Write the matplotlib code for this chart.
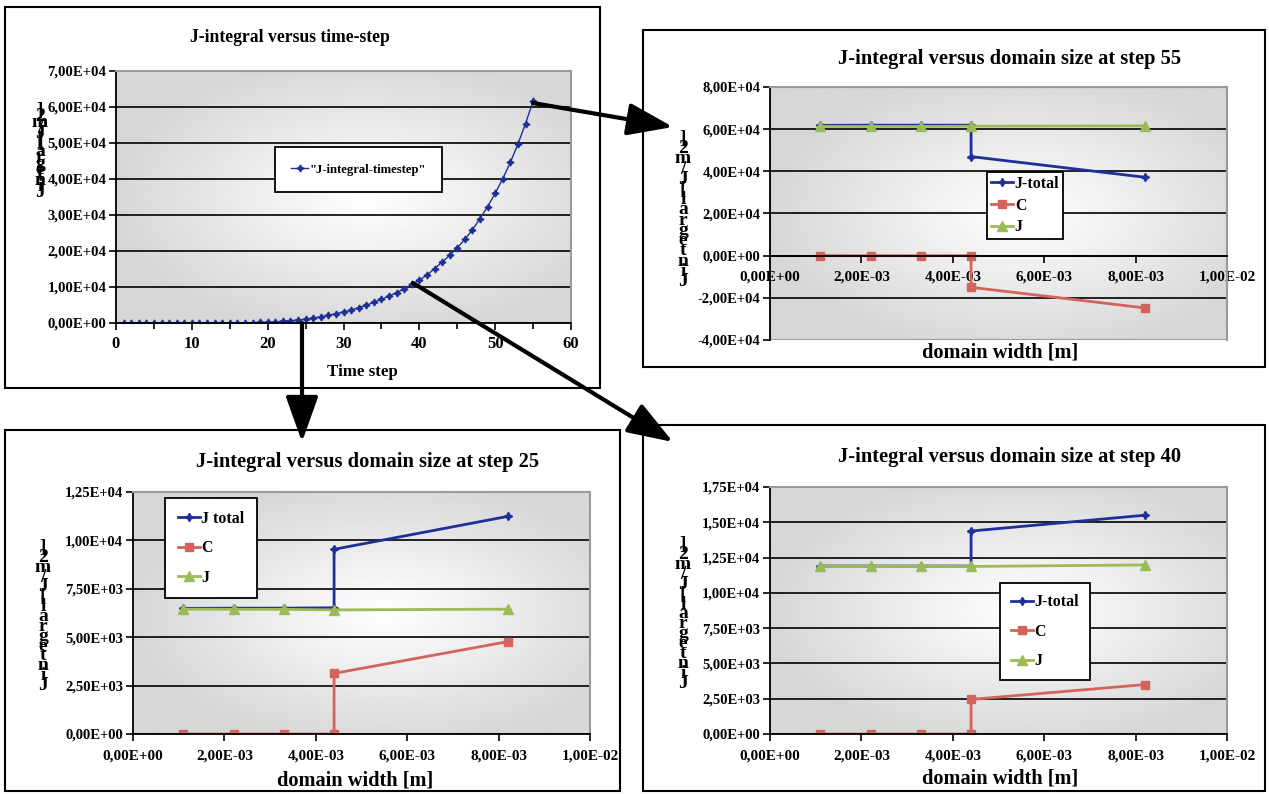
import matplotlib
matplotlib.use('Agg')
import matplotlib.pyplot as plt
import numpy as np
from matplotlib.patches import Rectangle, FancyArrowPatch
from matplotlib.ticker import FuncFormatter, MultipleLocator

plt.rcParams['font.family'] = ['Liberation Serif', 'DejaVu Serif']
plt.rcParams['font.weight'] = 'bold'

# ---- data ----
steps = list(range(1, 56))
j_steps = [0, 0, 0, 0, 0, 0, 0, 0, 0, 0, 0, 0, 10, 20, 30, 50, 70, 100, 140,
           200, 300, 500, 650, 850, 1100, 1400, 1750, 2100, 2600, 3050, 3600,
           4250, 4900, 5750, 6550, 7500, 8400, 9500, 10700, 11900, 13300,
           15100, 16900, 18800, 20900, 23200, 25900, 29000, 32300, 36000,
           40100, 44600, 49700, 55400, 61600]

width = [1.1e-3, 2.2e-3, 3.3e-3, 4.4e-3, 4.4e-3, 8.2e-3]   # J total and C (jump at 4.4e-3)
width_j = [1.1e-3, 2.2e-3, 3.3e-3, 4.4e-3, 8.2e-3]

jt25 = [6490, 6500, 6500, 6520, 9540, 11240]
c25 = [0, 0, 0, 0, 3130, 4770]
j25 = [6450, 6440, 6440, 6410, 6450]

jt40 = [11900, 11900, 11900, 11900, 14380, 15500]
c40 = [0, 0, 0, 0, 2450, 3500]
j40 = [11880, 11880, 11880, 11870, 11980]

jt55 = [61800, 61900, 61900, 61900, 47000, 37200]
c55 = [0, 0, 0, 0, -15000, -24800]
j55 = [61300, 61300, 61300, 61400, 61600]

# the y label comes out as a stack of characters in the original
ylabel_chars = list(']2m/J[largetniJ')

blue = '#1F2F98'
red = '#D2645C'
green = '#9BBB59'

W, H = 1269, 794
fig = plt.figure(figsize=(12.69, 7.94), dpi=100)


def px_box(l, t, r, b):
    return [l / W, 1 - b / H, (r - l) / W, (b - t) / H]


def sci(v, pos):
    return ('%.2E' % v).replace('.', ',')


def shade(ax):
    yy, xx = np.mgrid[-1:1:200j, -1.1:0.9:300j]
    r = np.sqrt(xx ** 2 + yy ** 2) / np.sqrt(2)
    img = 1 - 0.16 * np.clip(r * 1.25, 0, 1)
    ax.imshow(img, cmap='gray', vmin=0, vmax=1, extent=[0, 1, 0, 1],
              transform=ax.transAxes, aspect='auto', zorder=0,
              interpolation='bilinear')


def style(ax, xlim, ylim, ystep, ysize):
    shade(ax)
    ax.set_xlim(*xlim)
    ax.set_ylim(*ylim)
    ax.yaxis.set_major_locator(MultipleLocator(ystep))
    ax.yaxis.set_major_formatter(FuncFormatter(sci))
    ax.yaxis.grid(True, color='black', lw=1.2)
    ax.set_axisbelow(True)
    for s in ['top', 'right']:
        ax.spines[s].set_color('#9A9A9A')
        ax.spines[s].set_linewidth(1.5)
    for s in ['left', 'bottom']:
        ax.spines[s].set_color('black')
        ax.spines[s].set_linewidth(1.3)
    ax.tick_params(direction='out', length=5, width=1.2, labelsize=ysize, pad=2)
    fig.canvas.draw()
    for t in ax.yaxis.get_major_ticks():
        if abs(t.get_loc() - ylim[1]) < 1e-9:
            t.gridline.set_visible(False)


def stack_label(x, y_top, y_bot):
    step = (y_bot - y_top - 14) / (len(ylabel_chars) - 1)
    for i, ch in enumerate(ylabel_chars):
        fig.text(x / W, 1 - (y_top + i * step) / H, ch, ha='center', va='top',
                 fontsize=14)


def legend(ax, anchor, spacing, fs, pad, hl):
    leg = ax.legend(loc='upper left', bbox_to_anchor=anchor, fancybox=False,
                    framealpha=1, edgecolor='black', fontsize=fs,
                    handlelength=hl, handletextpad=0.1, borderaxespad=0,
                    labelspacing=spacing, borderpad=pad)
    leg.get_frame().set_linewidth(1.3)


# panel frames
for l, t, r, b in [(5, 7, 600, 388), (643, 30, 1265, 367),
                   (5, 430, 620, 791), (643, 425, 1265, 791)]:
    fig.patches.append(Rectangle((l / W, 1 - b / H), (r - l) / W, (b - t) / H,
                                 transform=fig.transFigure, fill=False,
                                 ec='black', lw=1.5))

# ---- panel 1: J versus time step ----
ax1 = fig.add_axes(px_box(116, 71, 571, 323))
ax1.plot(steps, j_steps, color=blue, lw=1, marker=(4, 1, 0), ms=5,
         label='"J-integral-timestep"')
style(ax1, (0, 60), (0, 70000), 10000, 10.6)
ax1.xaxis.set_major_locator(MultipleLocator(10))
ax1.xaxis.set_minor_locator(MultipleLocator(5))
ax1.tick_params(axis='x', which='minor', direction='out', length=4, width=1.2)
ax1.tick_params(axis='x', labelsize=12, pad=4)
legend(ax1, (0.349, 0.698), 0.5, 9.1, 1.3, 1.35)
fig.text(290 / W, 1 - 38 / H, 'J-integral versus time-step', ha='center',
         va='center', fontsize=12.7)
fig.text(362 / W, 1 - 372 / H, 'Time step', ha='center', va='center', fontsize=12.2)
stack_label(40, 102, 198)

# ---- domain panels ----
panels = [
    (px_box(770, 87, 1227, 340), jt55, c55, j55, (-40000, 80000), 20000,
     'J-integral versus domain size at step 55', (1010, 59), (1000, 352),
     ['J-total', 'C', 'J'], (0.475, 0.664), 0.36, 0.25, (683, 130, 287)),
    (px_box(133, 492, 590, 734), jt25, c25, j25, (0, 12500), 2500,
     'J-integral versus domain size at step 25', (368, 462), (355, 780),
     ['J total', 'C', 'J'], (0.070, 0.975), 0.85, 0.8, (43, 539, 691)),
    (px_box(770, 487, 1227, 734), jt40, c40, j40, (0, 17500), 2500,
     'J-integral versus domain size at step 40', (1010, 457), (1000, 778),
     ['J-total', 'C', 'J'], (0.503, 0.611), 0.85, 0.7, (683, 536, 689)),
]

for pos, jt, c, j, ylim, ystep, title, tpos, xpos, labels, lanchor, lsp, lpad, ylab in panels:
    ax = fig.add_axes(pos)
    ax.plot(width, jt, color=blue, lw=2, marker=(4, 1, 0), ms=6, label=labels[0])
    ax.plot(width, c, color=red, lw=2, marker='s', ms=6, label=labels[1])
    ax.plot(width_j, j, color=green, lw=2, marker='^', ms=7, label=labels[2])
    style(ax, (0, 0.01), ylim, ystep, 10.5)
    ax.xaxis.set_major_locator(MultipleLocator(0.002))
    ax.xaxis.set_major_formatter(FuncFormatter(sci))
    ax.tick_params(axis='x', labelsize=11, pad=6)
    if ylim[0] < 0:
        ax.spines['bottom'].set_position(('data', 0))
        ax.add_patch(Rectangle((0, 0), 1, 1, transform=ax.transAxes, fill=False,
                               ec='#9A9A9A', lw=1.5, zorder=0.6))
    legend(ax, lanchor, lsp, 11.4, lpad, 1.4)
    fig.text(tpos[0] / W, 1 - tpos[1] / H, title, ha='center', va='center',
             fontsize=14.8)
    fig.text(xpos[0] / W, 1 - xpos[1] / H, 'domain width [m]', ha='center',
             va='center', fontsize=14.7)
    stack_label(*ylab)

# ---- arrows linking the panels ----
for a, b in [((533, 103), (673, 127)), ((302, 323), (302, 442)),
             ((413, 283), (673, 442))]:
    arr = FancyArrowPatch((a[0] / W, 1 - a[1] / H), (b[0] / W, 1 - b[1] / H),
                          transform=fig.transFigure,
                          arrowstyle='-|>,head_length=1.4,head_width=0.5',
                          mutation_scale=20, lw=3, color='black',
                          shrinkA=0, shrinkB=0, zorder=10)
    fig.add_artist(arr)

fig.savefig('out.png', dpi=100)
